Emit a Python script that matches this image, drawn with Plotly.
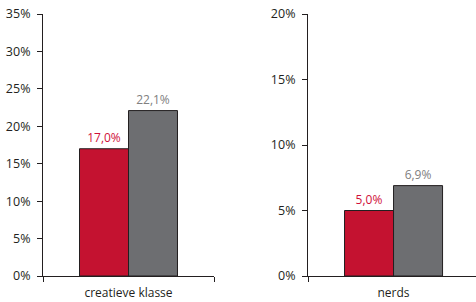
import plotly.graph_objects as go

categories_left = ["creatieve klasse"]
categories_right = ["nerds"]
red_left = [17.0]
gray_left = [22.1]
red_right = [5.0]
gray_right = [6.9]
yticks_left = [0, 5, 10, 15, 20, 25, 30, 35]
yticks_right = [0, 5, 10, 15, 20]

RED = "#C41230"
GRAY = "#6D6E71"
DARK = "#231F20"
FONT = "Open Sans"

def fmt(vals):
    return [f"{v:.1f}%".replace(".", ",") for v in vals]

fig = go.Figure()
for cats, reds, grays, xa, ya in [
    (categories_left, red_left, gray_left, "x", "y"),
    (categories_right, red_right, gray_right, "x2", "y2"),
]:
    fig.add_trace(go.Bar(x=cats, y=reds, marker=dict(color=RED, line=dict(color=DARK, width=1)),
                         text=fmt(reds), textposition="outside", cliponaxis=False,
                         textfont=dict(color="#D0103A", size=12, family=FONT),
                         xaxis=xa, yaxis=ya, showlegend=False))
    fig.add_trace(go.Bar(x=cats, y=grays, marker=dict(color=GRAY, line=dict(color=DARK, width=1)),
                         text=fmt(grays), textposition="outside", cliponaxis=False,
                         textfont=dict(color="#808080", size=12, family=FONT),
                         xaxis=xa, yaxis=ya, showlegend=False))

axis_common = dict(showline=True, linecolor=DARK, linewidth=1, ticks="outside", ticklen=5,
                   tickcolor=DARK, tickwidth=1, showgrid=False, zeroline=False, automargin=False)

fig.update_layout(
    width=476, height=302,
    margin=dict(l=0, r=0, t=14, b=26),
    paper_bgcolor="white", plot_bgcolor="white",
    barmode="group", bargap=0.427, bargroupgap=0,
    font=dict(family=FONT, size=12, color=DARK),
    xaxis=dict(domain=[43/476, 214/476], anchor="y", range=[-0.5, 0.5], tickson="boundaries",
               ticklabelstandoff=6, tickfont=dict(family=FONT, size=12, color=DARK), **axis_common),
    yaxis=dict(domain=[0, 1], anchor="x", range=[0, 35], tickvals=yticks_left,
               ticktext=[f"{v}%" for v in yticks_left], ticklabelstandoff=4,
               tickfont=dict(family=FONT, size=12.5, color=DARK), **axis_common),
    xaxis2=dict(domain=[308/476, 1.0], anchor="y2", range=[-0.5, 0.482], tickson="boundaries",
                ticklabelstandoff=6, tickfont=dict(family=FONT, size=12, color=DARK), **axis_common),
    yaxis2=dict(domain=[0, 1], anchor="x2", range=[0, 20], tickvals=yticks_right,
                ticktext=[f"{v}%" for v in yticks_right], ticklabelstandoff=4,
                tickfont=dict(family=FONT, size=12.5, color=DARK), **axis_common),
)

fig.write_html("out.html", config={"displayModeBar": False},
               post_script="document.body.style.margin='0';document.body.style.overflow='hidden';")
